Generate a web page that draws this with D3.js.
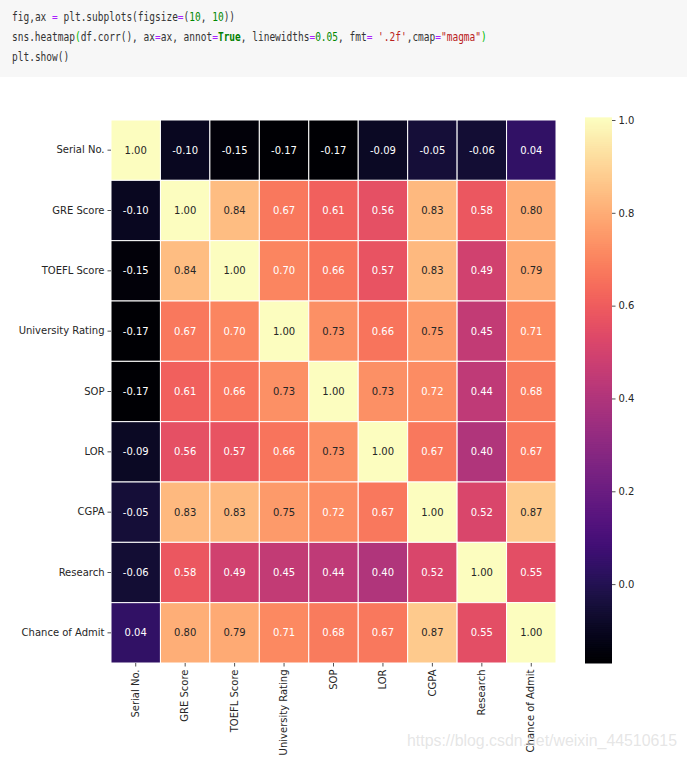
<!DOCTYPE html>
<html><head><meta charset="utf-8">
<script src="https://cdn.jsdelivr.net/npm/d3@7"></script>
<style>body{margin:0;background:#fff}svg{display:block}</style>
</head><body>
<script>
const categories = ["Serial No.","GRE Score","TOEFL Score","University Rating","SOP","LOR","CGPA","Research","Chance of Admit "];
const rowSerial   = [1.00,-0.10,-0.15,-0.17,-0.17,-0.09,-0.05,-0.06,0.04];
const rowGRE      = [-0.10,1.00,0.84,0.67,0.61,0.56,0.83,0.58,0.80];
const rowTOEFL    = [-0.15,0.84,1.00,0.70,0.66,0.57,0.83,0.49,0.79];
const rowUniv     = [-0.17,0.67,0.70,1.00,0.73,0.66,0.75,0.45,0.71];
const rowSOP      = [-0.17,0.61,0.66,0.73,1.00,0.73,0.72,0.44,0.68];
const rowLOR      = [-0.09,0.56,0.57,0.66,0.73,1.00,0.67,0.40,0.67];
const rowCGPA     = [-0.05,0.83,0.83,0.75,0.72,0.67,1.00,0.52,0.87];
const rowResearch = [-0.06,0.58,0.49,0.45,0.44,0.40,0.52,1.00,0.55];
const rowChance   = [0.04,0.80,0.79,0.71,0.68,0.67,0.87,0.55,1.00];
const matrix = [rowSerial,rowGRE,rowTOEFL,rowUniv,rowSOP,rowLOR,rowCGPA,rowResearch,rowChance];
const colorbarTicks = [0.0,0.2,0.4,0.6,0.8,1.0];
const codeLines = [
  [["fig,ax ","d"],["=","p"],[" plt.subplots(figsize","d"],["=","p"],["(","d"],["10","g"],[", ","d"],["10","g"],["))","d"]],
  [["sns.heatmap","d"],["(","gb"],["df.corr(), ax","d"],["=","p"],["ax, annot","d"],["=","p"],["True","gB"],[", linewidths","d"],["=","p"],["0.05","g"],[", fmt","d"],["=","p"],[" ","d"],["'.2f'","r"],[",cmap","d"],["=","p"],["\"magma\"","r"],[")","gb"]],
  [["plt.show()","d"]]
];
const watermark = "https://blog.csdn.net/weixin_44510615";

const W=687,H=758;
const svg=d3.select("body").append("svg").attr("width",W).attr("height",H);

// code block
svg.append("rect").attr("x",0).attr("y",0).attr("width",W).attr("height",77).attr("fill","#f7f7f7");
const tokColor={d:"#333333",p:"#aa22ff",g:"#008800",gb:"#00bb00",gB:"#008000",r:"#ba2121"};
const cw=5.72;
codeLines.forEach((line,li)=>{
  const n=d3.sum(line,t=>t[0].length);
  const t=svg.append("text").attr("x",12).attr("y",21+li*20)
    .attr("font-family","DejaVu Sans Mono, monospace").attr("font-size",12)
    .attr("xml:space","preserve")
    .attr("textLength",n*cw).attr("lengthAdjust","spacingAndGlyphs");
  line.forEach(([s,k])=>{
    t.append("tspan").attr("fill",tokColor[k]).attr("font-weight",k==="gB"?"bold":"normal").text(s);
  });
});

// heatmap
const x0=111,x1=556,y0=120,y1=663;
const x=d3.scaleBand().domain(categories).range([x0,x1]);
const y=d3.scaleBand().domain(categories).range([y0,y1]);
const flat=matrix.flat();
const vmin=d3.min(flat),vmax=d3.max(flat);
const color=d3.scaleSequential(d3.interpolateMagma).domain([vmin,vmax]);

function lum(c){
  const r=d3.rgb(c);
  const f=v=>{v/=255;return v<=0.03928?v/12.92:Math.pow((v+0.055)/1.055,2.4);};
  return 0.2126*f(r.r)+0.7152*f(r.g)+0.0722*f(r.b);
}

const cells=[];
matrix.forEach((row,i)=>row.forEach((v,j)=>cells.push({r:categories[i],c:categories[j],v})));
const g=svg.append("g");
g.selectAll("rect").data(cells).join("rect")
  .attr("x",d=>x(d.c)).attr("y",d=>y(d.r))
  .attr("width",x.bandwidth()).attr("height",y.bandwidth())
  .attr("fill",d=>color(d.v)).attr("stroke","#fff").attr("stroke-width",1);
g.selectAll("text").data(cells).join("text")
  .attr("x",d=>x(d.c)+x.bandwidth()/2).attr("y",d=>y(d.r)+y.bandwidth()/2)
  .attr("text-anchor","middle").attr("dominant-baseline","central")
  .attr("font-family","DejaVu Sans, sans-serif").attr("font-size",10)
  .attr("fill",d=>lum(color(d.v))>0.408?"#262626":"#ffffff")
  .text(d=>d.v.toFixed(2));

// axes
const ya=svg.append("g").attr("transform",`translate(${x0},0)`)
  .call(d3.axisLeft(y).tickSize(3.5).tickPadding(3));
ya.select(".domain").remove();
ya.selectAll("text").attr("font-family","DejaVu Sans, sans-serif").attr("font-size",10).attr("fill","#262626");
ya.selectAll("line").attr("stroke","#262626").attr("stroke-width",0.8);

const xa=svg.append("g").attr("transform",`translate(0,${y1})`)
  .call(d3.axisBottom(x).tickSize(3.5).tickPadding(3));
xa.select(".domain").remove();
xa.selectAll("line").attr("stroke","#262626").attr("stroke-width",0.8);
xa.selectAll("text").attr("font-family","DejaVu Sans, sans-serif").attr("font-size",10).attr("fill","#262626")
  .attr("transform","rotate(-90)").attr("text-anchor","end").attr("dy","0.32em").attr("x",-6.5).attr("y",0);

// colorbar
const cbx=585,cbw=27;
const cy=d3.scaleLinear().domain([vmin,vmax]).range([y1,y0]);
const steps=d3.range(0,256).map(i=>vmin+(vmax-vmin)*i/255);
const cb=svg.append("g");
cb.selectAll("rect").data(steps).join("rect")
  .attr("x",cbx).attr("width",cbw)
  .attr("y",d=>cy(d)-(y1-y0)/255-0.5).attr("height",(y1-y0)/255+1)
  .attr("fill",d=>color(d));
const ca=svg.append("g").attr("transform",`translate(${cbx+cbw},0)`)
  .call(d3.axisRight(cy).tickValues(colorbarTicks).tickFormat(d3.format(".1f")).tickSize(3.5).tickPadding(3));
ca.select(".domain").remove();
ca.selectAll("line").attr("stroke","#262626").attr("stroke-width",0.8);
ca.selectAll("text").attr("font-family","DejaVu Sans, sans-serif").attr("font-size",10).attr("fill","#262626");

// watermark
svg.append("text").attr("x",407).attr("y",746).attr("font-family","Liberation Sans, Arial, sans-serif")
  .attr("font-size",16).attr("fill","#d0d0d0").attr("fill-opacity",0.55)
  .attr("textLength",270).attr("lengthAdjust","spacingAndGlyphs").text(watermark);
</script>
</body></html>
